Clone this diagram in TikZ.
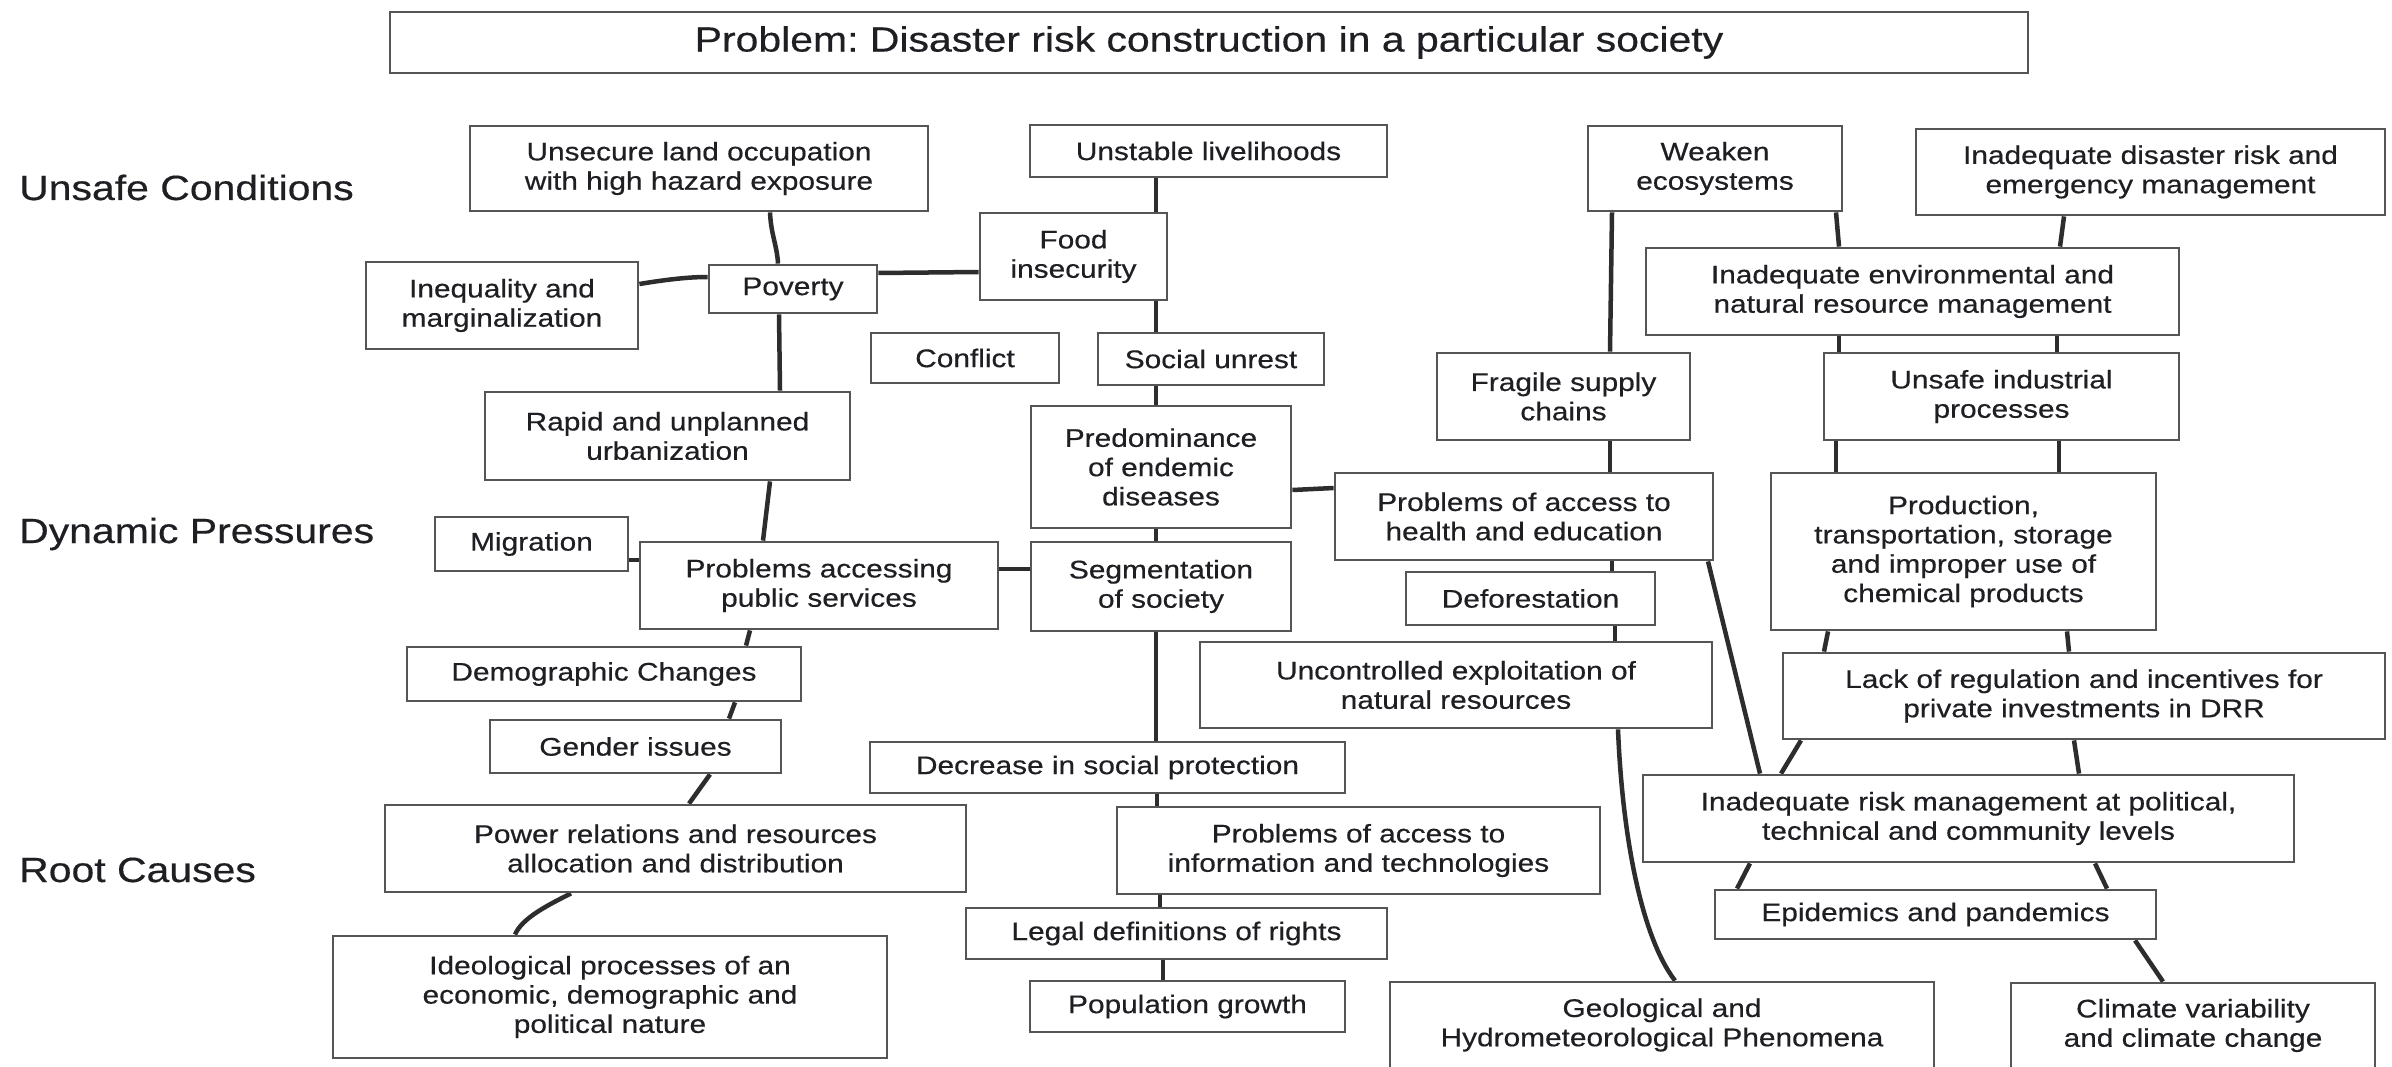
\documentclass[tikz,border=0pt]{standalone}
\usepackage{fontspec}
\setmainfont{Liberation Sans}[FakeStretch=1.17,FakeBold=0.4]
\usetikzlibrary{backgrounds}
\definecolor{boxline}{RGB}{85,85,85}
\definecolor{connline}{RGB}{45,45,45}
\definecolor{txt}{RGB}{30,30,35}
\newcommand\riskbox[6]{\node[box, minimum width={#4pt-#2pt}, minimum height={#5pt-#3pt}] (#1) at ({(#2+#4)/2},{(#3+#5)/2}) {#6};}
\frenchspacing
\begin{document}
\begin{tikzpicture}[x=1pt,y=-1pt,
  box/.style={draw=boxline, line width=2.8pt, fill=white, inner sep=2pt, align=center, text=txt, font=\fontsize{25.5}{29.3}\selectfont},
  titlebox/.style={box, font=\fontsize{35}{40}\selectfont},
  conn/.style={draw=connline, line width=4.5pt},
  lab/.style={text=txt, inner sep=0pt, font=\fontsize{35}{40}\selectfont, anchor=base west}]
\useasboundingbox (0,0) rectangle (2392,1067);
\clip (0,0) rectangle (2392,1067);

\node[titlebox, minimum width=1638pt, minimum height=61pt] (title) at (1209,42.5) {Problem: Disaster risk construction in a particular society};

\node[lab] (lunsafe) at (19,200) {Unsafe Conditions};
\node[lab] (ldynamic) at (19,543) {Dynamic Pressures};
\node[lab] (lroot) at (19,882) {Root Causes};

\riskbox{unsecure}{470}{126}{928}{211}{Unsecure land occupation\\with high hazard exposure}
\riskbox{unstable}{1030}{125}{1387}{177}{Unstable livelihoods}
\riskbox{food}{980}{213}{1167}{300}{Food\\insecurity}
\riskbox{inequality}{366}{262}{638}{349}{Inequality and\\marginalization}
\riskbox{poverty}{709}{265}{877}{313}{Poverty}
\riskbox{conflict}{871}{333}{1059}{383}{Conflict}
\riskbox{social}{1098}{333}{1324}{385}{Social unrest}
\riskbox{weaken}{1588}{126}{1842}{211}{Weaken\\ecosystems}
\riskbox{disaster}{1916}{129}{2385}{215}{Inadequate disaster risk and\\emergency management}
\riskbox{env}{1646}{248}{2179}{335}{Inadequate environmental and\\natural resource management}
\riskbox{fragile}{1437}{353}{1690}{440}{Fragile supply\\chains}
\riskbox{unsafeind}{1824}{353}{2179}{440}{Unsafe industrial\\processes}
\riskbox{rapid}{485}{392}{850}{480}{Rapid and unplanned\\urbanization}
\riskbox{predom}{1031}{406}{1291}{528}{Predominance\\of endemic\\diseases}
\riskbox{health}{1335}{473}{1713}{560}{Problems of access to\\health and education}
\riskbox{production}{1771}{473}{2156}{630}{Production,\\transportation, storage\\and improper use of\\chemical products}
\riskbox{migration}{435}{517}{628}{571}{Migration}
\riskbox{pa}{640}{542}{998}{629}{Problems accessing\\public services}
\riskbox{seg}{1031}{542}{1291}{631}{Segmentation\\of society}
\riskbox{defor}{1406}{572}{1655}{625}{Deforestation}
\riskbox{uncontrolled}{1200}{642}{1712}{728}{Uncontrolled exploitation of\\natural resources}
\riskbox{lack}{1783}{653}{2385}{739}{Lack of regulation and incentives for\\private investments in DRR}
\riskbox{demographic}{407}{647}{801}{701}{Demographic Changes}
\riskbox{gender}{490}{720}{781}{773}{Gender issues}
\riskbox{decrease}{870}{742}{1345}{793}{Decrease in social protection}
\riskbox{inadrisk}{1643}{775}{2294}{862}{Inadequate risk management at political,\\technical and community levels}
\riskbox{power}{385}{805}{966}{892}{Power relations and resources\\allocation and distribution}
\riskbox{info}{1117}{807}{1600}{894}{Problems of access to\\information and technologies}
\riskbox{epidemics}{1715}{890}{2156}{939}{Epidemics and pandemics}
\riskbox{legal}{966}{908}{1387}{959}{Legal definitions of rights}
\riskbox{ideological}{333}{936}{887}{1058}{Ideological processes of an\\economic, demographic and\\political nature}
\riskbox{population}{1030}{981}{1345}{1032}{Population growth}
\riskbox{geological}{1390}{982}{1934}{1068}{Geological and\\Hydrometeorological Phenomena}
\riskbox{climate}{2011}{983}{2375}{1068}{Climate variability\\and climate change}

\begin{scope}[on background layer]
\fill[white] (0,0) rectangle (2392,1067);
\draw[conn] (unsecure.south -| 770,0) .. controls (771,235) and (777,245) .. (poverty.north -| 778,0);
\draw[conn] (inequality.east |- 0,284) .. controls (670,279) and (690,277) .. (poverty.west |- 0,277);
\draw[conn] (poverty.east |- 0,273) -- (food.west |- 0,272);
\draw[conn] (unstable.south -| 1156,0) -- (food.north -| 1156,0);
\draw[conn] (food.south -| 1156,0) -- (social.north -| 1156,0);
\draw[conn] (poverty.south -| 779,0) -- (rapid.north -| 780,0);
\draw[conn] (rapid.south -| 770,0) -- (pa.north -| 763,0);
\draw[conn] (migration.east |- 0,560) -- (pa.west |- 0,560);
\draw[conn] (pa.east |- 0,569) -- (seg.west |- 0,569);
\draw[conn] (social.south -| 1156,0) -- (predom.north -| 1156,0);
\draw[conn] (predom.south -| 1156,0) -- (seg.north -| 1156,0);
\draw[conn] (predom.east |- 0,490) -- (health.west |- 0,488);
\draw[conn] (seg.south -| 1156,0) -- (decrease.north -| 1156,0);
\draw[conn] (pa.south -| 750,0) -- (demographic.north -| 746,0);
\draw[conn] (demographic.south -| 735,0) -- (gender.north -| 729,0);
\draw[conn] (gender.south -| 710,0) -- (power.north -| 689,0);
\draw[conn] (power.south -| 571,0) .. controls (548,905) and (522,918) .. (ideological.north -| 515,0);
\draw[conn] (decrease.south -| 1157,0) -- (info.north -| 1157,0);
\draw[conn] (info.south -| 1160,0) -- (legal.north -| 1160,0);
\draw[conn] (legal.south -| 1163,0) -- (population.north -| 1163,0);
\draw[conn] (weaken.south -| 1612,0) -- (fragile.north -| 1610,0);
\draw[conn] (weaken.south -| 1836,0) -- (env.north -| 1839,0);
\draw[conn] (disaster.south -| 2064,0) -- (env.north -| 2060,0);
\draw[conn] (env.south -| 1839,0) -- (unsafeind.north -| 1839,0);
\draw[conn] (env.south -| 2057,0) -- (unsafeind.north -| 2057,0);
\draw[conn] (fragile.south -| 1610,0) -- (health.north -| 1610,0);
\draw[conn] (unsafeind.south -| 1836,0) -- (production.north -| 1836,0);
\draw[conn] (unsafeind.south -| 2059,0) -- (production.north -| 2059,0);
\draw[conn] (health.south -| 1612,0) -- (defor.north -| 1612,0);
\draw[conn] (defor.south -| 1615,0) -- (uncontrolled.north -| 1615,0);
\draw[conn] (health.south -| 1708,0) -- (inadrisk.north -| 1760,0);
\draw[conn] (production.south -| 1828,0) -- (lack.north -| 1824,0);
\draw[conn] (production.south -| 2067,0) -- (lack.north -| 2069,0);
\draw[conn] (lack.south -| 1801,0) -- (inadrisk.north -| 1781,0);
\draw[conn] (lack.south -| 2074,0) -- (inadrisk.north -| 2079,0);
\draw[conn] (uncontrolled.south -| 1618,0) .. controls (1622,830) and (1640,935) .. (geological.north -| 1675,0);
\draw[conn] (inadrisk.south -| 1750,0) -- (epidemics.north -| 1737,0);
\draw[conn] (inadrisk.south -| 2095,0) -- (epidemics.north -| 2107,0);
\draw[conn] (epidemics.south -| 2135,0) -- (climate.north -| 2163,0);
\end{scope}
\end{tikzpicture}
\end{document}
